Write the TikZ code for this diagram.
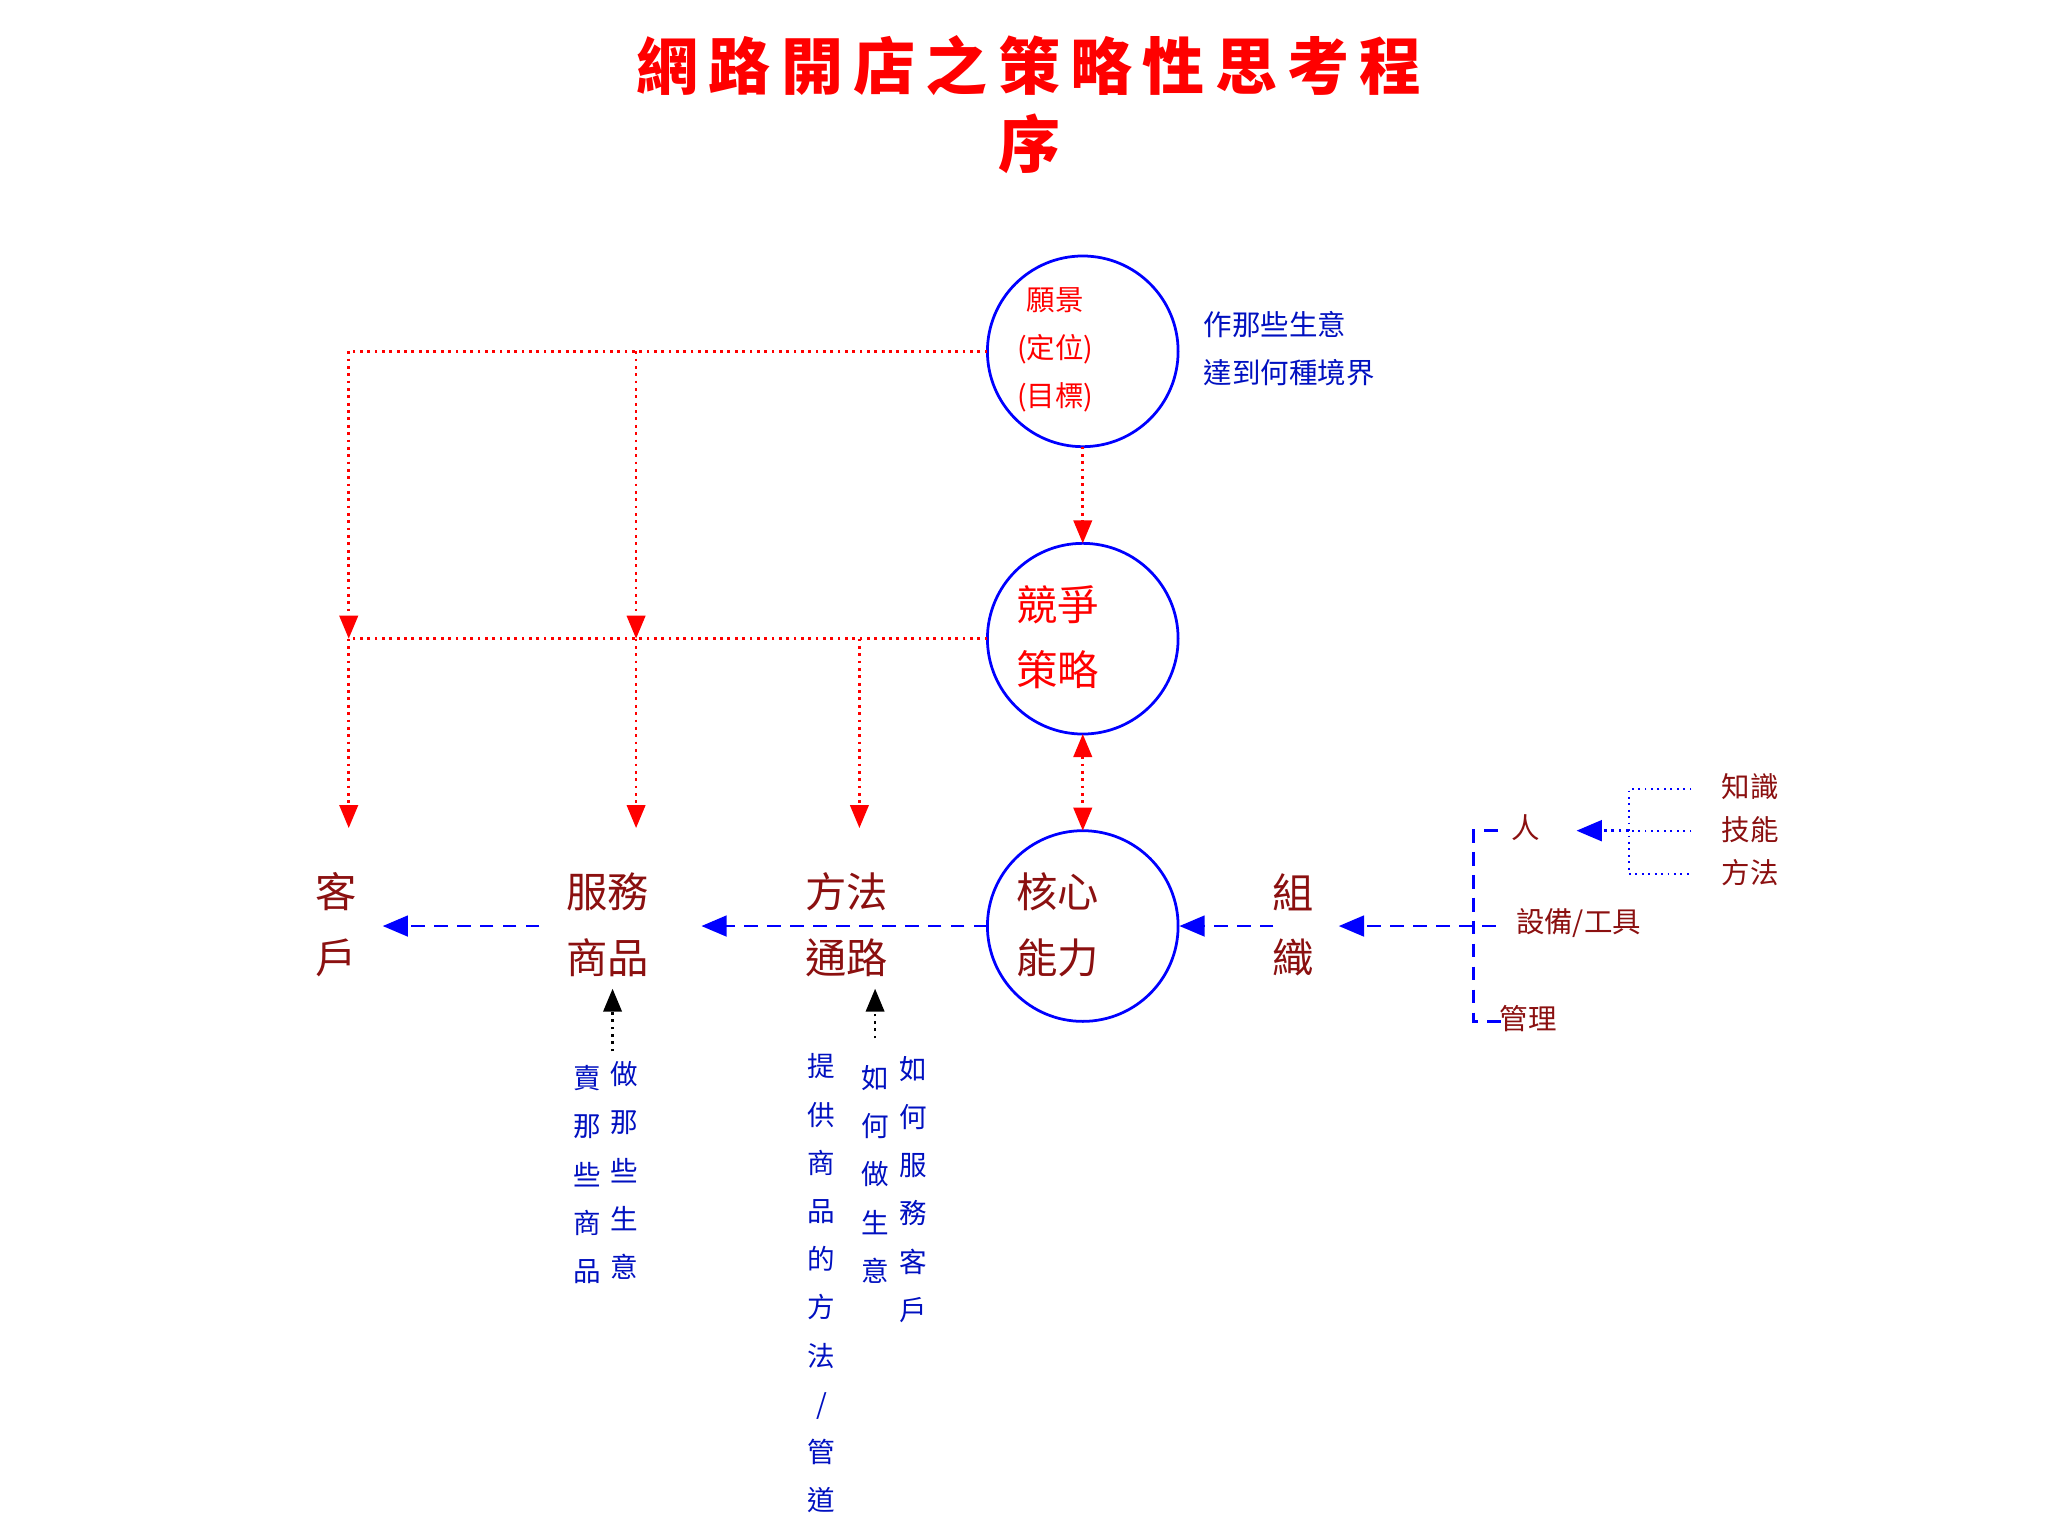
\documentclass[tikz,border=0pt]{standalone}
\usepackage{fontspec}
\newfontfamily\cjk{Noto Sans CJK TC}
\usetikzlibrary{arrows.meta}
\definecolor{dred}{HTML}{8B1010}
\definecolor{tblue}{HTML}{0010C0}
\tikzset{
 rl/.style={red,densely dotted,semithick},
 ra/.style={rl,-{Triangle[width=4pt,length=5pt]}},
 bl/.style={blue,densely dashed,semithick},
 ba/.style={bl,-{Triangle[width=4.5pt,length=5.5pt]}},
 ka/.style={black,densely dotted,semithick,-{Triangle[width=4pt,length=5pt]}},
 big/.style={font=\cjk\fontsize{9}{14.2}\selectfont,align=center,inner sep=0pt},
 small/.style={font=\cjk\fontsize{6.2}{10.5}\selectfont,align=center,inner sep=0pt},
 vt/.style={font=\cjk\fontsize{6}{10.5}\selectfont,align=center,inner sep=0pt,text=tblue,anchor=north},
}
\begin{document}
\begin{tikzpicture}[x=0.01cm,y=-0.01cm]
\useasboundingbox[fill=white] (0,0) rectangle (1568,1176);
\node[font=\cjk\bfseries\fontsize{13.5}{17}\selectfont,text=red,align=center] (title) at (788,80) {網\,路\,開\,店\,之\,策\,略\,性\,思\,考\,程\\序};
\foreach \n/\y in {c1/269,c2/489,c3/709}
  \draw[blue,semithick] (829,\y) circle[radius=73] coordinate (\n);
\coordinate (c1l) at (756,269); \coordinate (c1b) at (829,342);
\coordinate (c2t) at (829,416); \coordinate (c2l) at (756,489); \coordinate (c2b) at (829,562);
\coordinate (c3t) at (829,636); \coordinate (c3l) at (756,709); \coordinate (c3r) at (903,709);
\node[small,text=red] (t1) at (808,268) {願景\\(定位)\\(目標)};
\node[big,text=red] (t2) at (810,488) {競爭\\策略};
\node[big,text=dred] (t3) at (810,708) {核心\\能力};
\node[small,text=tblue,align=left,anchor=west] (d1) at (921,267) {作那些生意\\達到何種境界};
% bottom labels
\node[big,text=dred] (kh) at (257,708) {客\\戶};
\node[big,text=dred] (fw) at (465,708) {服務\\商品};
\node[big,text=dred] (ff) at (648,708) {方法\\通路};
\node[big,text=dred] (zz) at (990,708) {組\\織};
% red lines
\coordinate (a1) at (267,269); \coordinate (a2) at (487,269);
\coordinate (b1) at (267,489); \coordinate (b2) at (487,489); \coordinate (b3) at (658,489);
\coordinate (e1) at (267,634); \coordinate (e2) at (487,634); \coordinate (e3) at (658,634);
\draw[rl] (c1l) -- (a1);
\draw[ra] (a1) -- (b1); \draw[ra] (a2) -- (b2);
\draw[rl] (c2l) -- (b1);
\draw[ra] (b1) -- (e1); \draw[ra] (b2) -- (e2); \draw[ra] (b3) -- (e3);
\draw[ra] (c1b) -- (c2t);
\draw[rl,{Triangle[width=4pt,length=5pt]}-{Triangle[width=4pt,length=5pt]}] (c2b) -- (c3t);
% blue arrows
\coordinate (f1) at (537,709); \coordinate (g1) at (413,709); \coordinate (g2) at (293,709);
\coordinate (h1) at (975,709); \coordinate (i1) at (1145,709); \coordinate (i2) at (1025,709);
\draw[ba] (c3l) -- (f1); \draw[ba] (g1) -- (g2); \draw[ba] (h1) -- (c3r); \draw[ba] (i1) -- (i2);
% tree
\draw[bl] (1147,636) -- (1128,636) -- (1128,782) -- (1150,782);
\node[small,text=dred] (ren) at (1168,634) {人};
\node[small,text=dred,anchor=west] (sb) at (1160,707) {設備/工具};
\node[small,text=dred] (gl) at (1170,780) {管理};
\draw[blue,densely dotted] (1295,604) -- (1247,604) -- (1247,669) -- (1295,669);
\draw[blue,densely dotted] (1295,636) -- (1247,636);
\draw[ba,densely dotted] (1247,636) -- (1207,636);
\node[small,text=dred] (zs) at (1340,602) {知識};
\node[small,text=dred] (jn) at (1340,635) {技能};
\node[small,text=dred] (fa) at (1340,668) {方法};
% black arrows
\draw[ka] (469,805) -- (469,757);
\draw[ka] (670,795) -- (670,757);
% vertical texts
\node[vt] (v1) at (450,815) {賣\\那\\些\\商\\品};
\node[vt] (v2) at (478,812) {做\\那\\些\\生\\意};
\node[vt] (v3) at (629,806) {提\\供\\商\\品\\的\\方\\法\\/\\管\\道};
\node[vt] (v4) at (670,815) {如\\何\\做\\生\\意};
\node[vt] (v5) at (699,808) {如\\何\\服\\務\\客\\戶};
\end{tikzpicture}
\end{document}
